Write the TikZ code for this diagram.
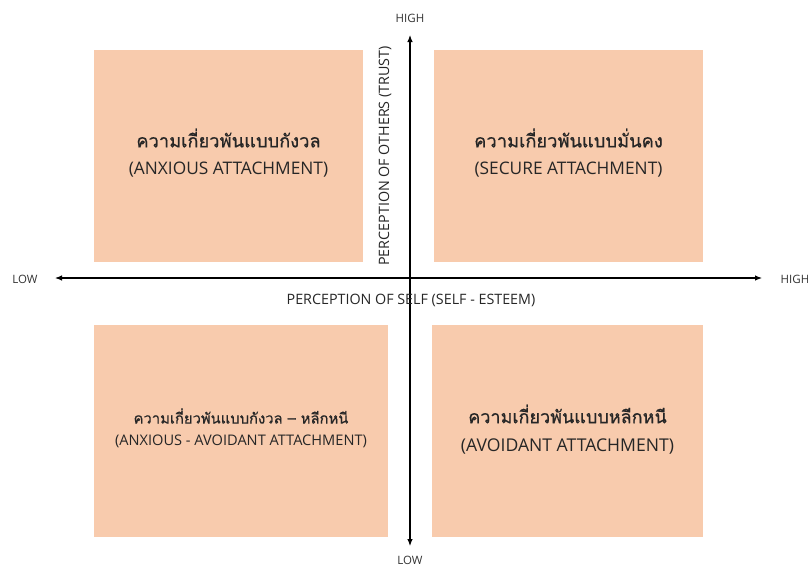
\documentclass[tikz,border=0pt]{standalone}
\usepackage{fontspec}
\setmainfont{Open Sans}
\newfontfamily\thai[Script=Thai,FakeBold=0.7]{Loma}
\usetikzlibrary{arrows.meta}
\definecolor{quad}{HTML}{F8CBAD}
\begin{document}
\begin{tikzpicture}[x=1pt,y=-1pt,
  quadbox/.style={fill=quad,draw=none},
  thline/.style={font=\thai\fontsize{#1}{#1}\selectfont,text=black!85},
  enline/.style={font=\fontsize{#1}{#1}\selectfont,text=black!85},
  axis/.style={line width=1.1pt,-{Latex[length=7pt,width=5.5pt]}},
  endlabel/.style={font=\fontsize{11.5}{12}\selectfont,text=black!80},
  axlabel/.style={font=\fontsize{14.3}{16}\selectfont,text=black!85}]
\useasboundingbox (0,0) rectangle (808,566);
% quadrants
\fill[quadbox] (94,50) rectangle (363,262);
\fill[quadbox] (434,50) rectangle (703,262);
\fill[quadbox] (94,325) rectangle (388,537);
\fill[quadbox] (432,325) rectangle (703,537);
% quadrant captions
\node[thline=18.3] (anxth) at (228.5,138) {ความเกี่ยวพันแบบกังวล};
\node[enline=17.3] (anxen) at (228.5,170) {(ANXIOUS ATTACHMENT)};
\node[thline=18.3] (secth) at (568.5,138) {ความเกี่ยวพันแบบมั่นคง};
\node[enline=17.3] (secen) at (568.5,170) {(SECURE ATTACHMENT)};
\node[thline=14.8] (aavth) at (241,416) {ความเกี่ยวพันแบบกังวล – หลีกหนี};
\node[enline=14.6] (aaven) at (241,441) {(ANXIOUS - AVOIDANT ATTACHMENT)};
\node[thline=18] (avoth) at (567.5,414) {ความเกี่ยวพันแบบหลีกหนี};
\node[enline=17.6] (avoen) at (567.5,446) {(AVOIDANT ATTACHMENT)};
% axes
\coordinate (c) at (410,278);
\coordinate (xl) at (55,278);
\coordinate (xr) at (762,278);
\coordinate (yt) at (410,35);
\coordinate (yb) at (410,546);
\draw[axis] (c) -- (xl);
\draw[axis] (c) -- (xr);
\draw[axis] (c) -- (yt);
\draw[axis] (c) -- (yb);
\node[endlabel] (low1) at (25,279) {LOW};
\node[endlabel] (high1) at (795,279) {HIGH};
\node[endlabel] (high2) at (410,18) {HIGH};
\node[endlabel] (low2) at (410,560) {LOW};
\node[axlabel] (self) at (411,300) {PERCEPTION OF SELF (SELF - ESTEEM)};
\node[axlabel,rotate=90] (oth) at (385,156) {PERCEPTION OF OTHERS (TRUST)};
\end{tikzpicture}
\end{document}
